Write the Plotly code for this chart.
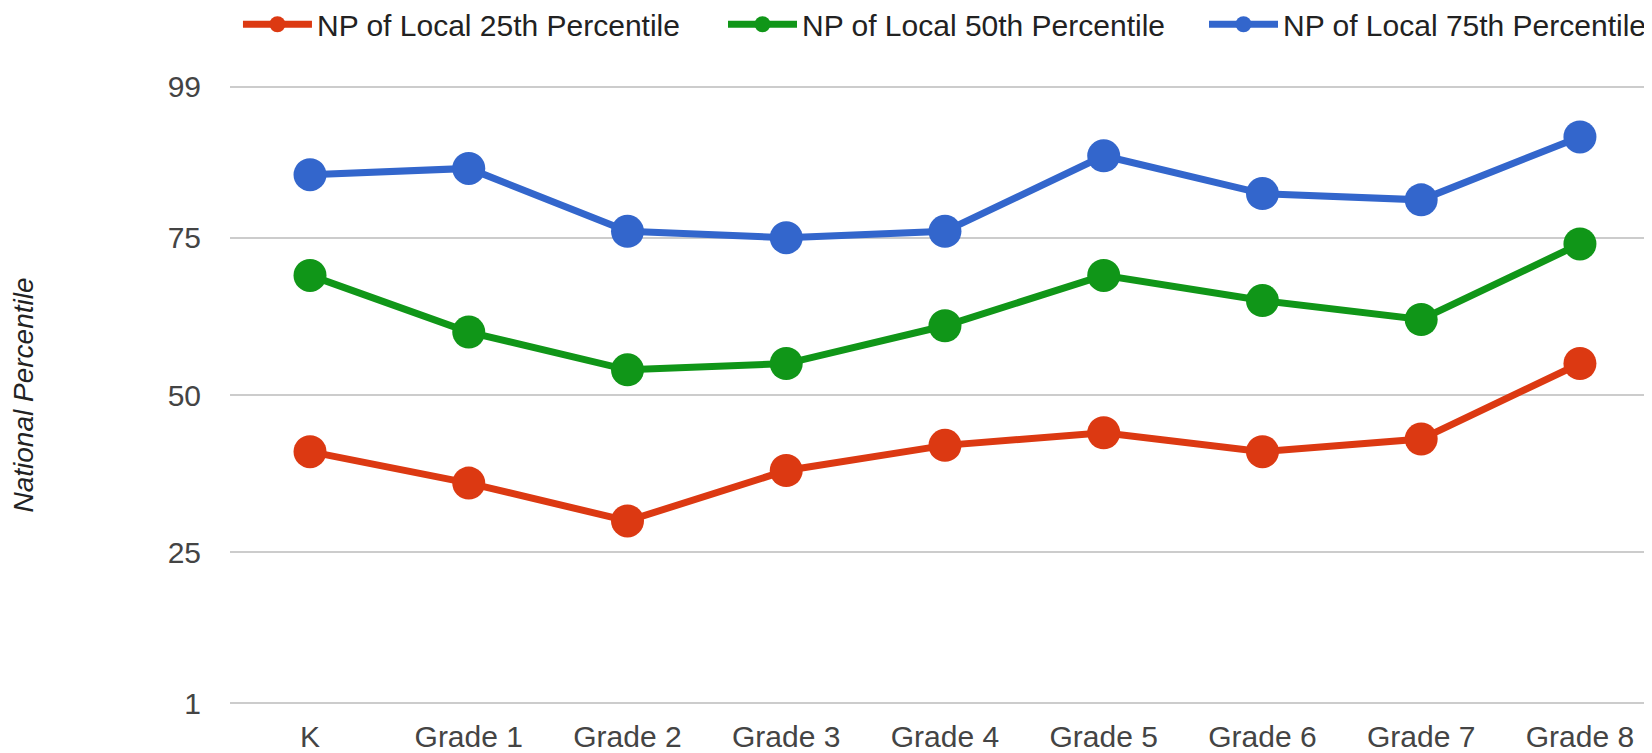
import plotly.graph_objects as go

grades = ["K", "Grade 1", "Grade 2", "Grade 3", "Grade 4", "Grade 5", "Grade 6", "Grade 7", "Grade 8"]
np_25th = [41, 36, 30, 38, 42, 44, 41, 43, 55]
np_50th = [69, 60, 54, 55, 61, 69, 65, 62, 74]
np_75th = [85, 86, 76, 75, 76, 88, 82, 81, 91]
y_ticks = [1, 25, 50, 75, 99]

FONT = "Arial, Liberation Sans, sans-serif"

series = [
    ("NP of Local 25th Percentile", np_25th, "#dc3912", "legend", 0.0056, "left"),
    ("NP of Local 50th Percentile", np_50th, "#109618", "legend2", 0.3467, "left"),
    ("NP of Local 75th Percentile", np_75th, "#3366cc", "legend3", 1.0, "right"),
]

fig = go.Figure()
legends = {}
for name, vals, color, leg, lx, anchor in series:
    fig.add_trace(go.Scatter(
        x=grades, y=vals, name=name, mode="lines+markers", legend=leg,
        line=dict(color=color, width=7),
        marker=dict(color=color, size=33),
    ))
    # one legend per series so each entry sits where the reference has it
    legends[leg] = dict(
        orientation="h", x=lx, xanchor=anchor, y=1.098, yanchor="middle",
        itemwidth=69, bgcolor="rgba(0,0,0,0)", font=dict(size=30, color="#222222"),
    )

# page body has an 8px margin, so the figure is drawn 8px in from the corner
fig.update_layout(
    width=1644, height=745,
    margin=dict(l=222, r=0, t=77, b=48, autoexpand=False),
    paper_bgcolor="white", plot_bgcolor="white",
    font=dict(family=FONT, size=30, color="#222222"),
    showlegend=True,
    **legends,
)
fig.update_xaxes(
    range=[-0.504, 8.454], showgrid=False, showline=False, zeroline=False,
    tickfont=dict(color="#444444", size=30), ticks="", ticklabelstandoff=11,
)
fig.update_yaxes(
    range=[0.75, 99.25], tickvals=y_ticks, showgrid=True, gridcolor="#cccccc", gridwidth=2,
    zeroline=False, showline=False, ticks="",
    tickfont=dict(color="#444444", size=30), ticklabelstandoff=28,
    title=dict(text="<i>National Percentile</i>", font=dict(size=28, color="#222222"), standoff=125),
)

fig.write_html("out.html")
